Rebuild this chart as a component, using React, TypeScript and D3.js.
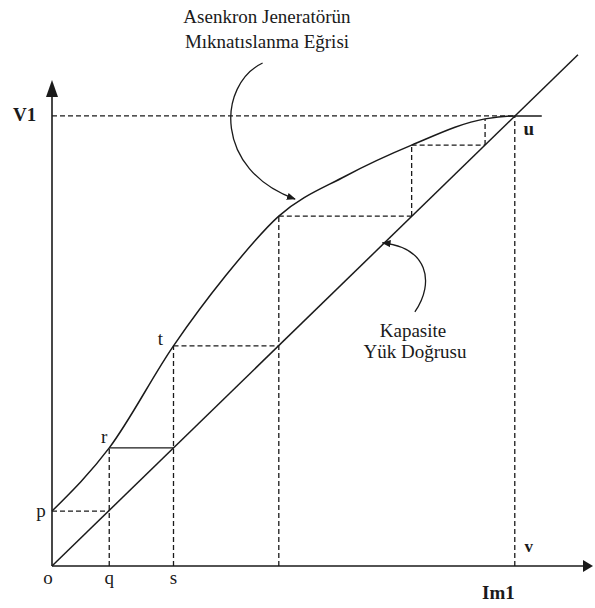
import React from "react";
import * as d3 from "d3";

const W = 595;
const H = 608;

// Magnetisation curve of the asynchronous generator (Im and V in arbitrary units),
// ending flat after the operating point u
const curveI = [0, 1.06, 2.25, 3.2, 4.2, 5.43, 6.66, 8.02, 8.57, 9.07];
const curveV = [1.13, 2.43, 4.53, 5.95, 7.2, 8.02, 8.66, 9.2, 9.26, 9.26];
// Staircase (self-excitation build-up) points on the curve
const pV = 1.13;
const stepI = [1.06, 2.25, 4.2, 6.66, 8.02, 8.57];
const stepV = [2.43, 4.53, 7.2, 8.66, 9.2, 9.26];
// Capacitive load line
const loadI = [0, 9.74];
const loadV = [0, 10.52];
const xTickLabels = ["o", "q", "s"];
const pointLabels = ["p", "r", "t", "u", "v"];
const titleLines = ["Asenkron Jeneratörün", "Mıknatıslanma Eğrisi"];
const loadLines = ["Kapasite", "Yük Doğrusu"];

const x = d3.scaleLinear().domain([0, 10]).range([52, 592]);
const y = d3.scaleLinear().domain([0, 10]).range([566, 80]);

const INK = "#1a1a1a";
const FONT = "'Liberation Serif', 'Times New Roman', serif";

export default function App() {
  const pts: [number, number][] = curveI.map((v, i) => [v, curveV[i]]);
  const curvePath = d3
    .line<[number, number]>()
    .x((d) => x(d[0]))
    .y((d) => y(d[1]))
    .curve(d3.curveMonotoneX)(pts) as string;

  const n = stepI.length;
  const uI = stepI[n - 1];
  const uV = stepV[n - 1];

  const horiz: { x1: number; x2: number; yv: number; solid: boolean }[] = [];
  horiz.push({ x1: 0, x2: stepI[0], yv: pV, solid: false });
  for (let i = 0; i <= 3; i++) {
    horiz.push({ x1: stepI[i], x2: stepI[i + 1], yv: stepV[i], solid: i === 0 });
  }
  horiz.push({ x1: 0, x2: uI, yv: uV, solid: false });

  const vert: { xv: number; y1: number; y2: number }[] = [];
  for (let i = 0; i <= 2; i++) vert.push({ xv: stepI[i], y1: 0, y2: stepV[i] });
  vert.push({ xv: stepI[3], y1: stepV[2], y2: stepV[3] });
  vert.push({ xv: stepI[4], y1: stepV[3], y2: stepV[4] });
  vert.push({ xv: uI, y1: 0, y2: uV });

  const dash = "5,3";

  const arr1 = `M${x(3.9)},${y(10.35)} C${x(3.06)},${y(9.9)} ${x(3.0)},${y(8.15)} ${x(4.5)},${y(7.55)}`;
  const arr2 = `M${x(6.72)},${y(5.23)} C${x(7.1)},${y(5.85)} ${x(6.95)},${y(6.55)} ${x(6.12)},${y(6.65)}`;

  const axisX0 = x(0);
  const axisY0 = y(0);
  const yTop = y(10);
  const xEnd = x(10);

  return (
    <div style={{ position: "fixed", left: 0, top: 0 }}>
      <svg width={W} height={H} style={{ display: "block", background: "#fff" }}>
        <defs>
          <marker id="ah" viewBox="0 0 10 10" refX="9" refY="5" markerWidth="9" markerHeight="9" orient="auto" markerUnits="userSpaceOnUse">
            <path d="M0,1 L10,5 L0,9 z" fill={INK} />
          </marker>
        </defs>

        <line x1={axisX0} y1={axisY0} x2={axisX0} y2={yTop + 12} stroke={INK} strokeWidth={1.6} />
        <path d={`M${axisX0},${yTop} L${axisX0 - 6},${yTop + 17} L${axisX0 + 6},${yTop + 17} z`} fill={INK} />
        <line x1={axisX0} y1={axisY0} x2={xEnd - 6} y2={axisY0} stroke={INK} strokeWidth={1.6} />
        <path d={`M${xEnd + 1},${axisY0} L${xEnd - 9},${axisY0 - 6} L${xEnd - 9},${axisY0 + 6} z`} fill={INK} />

        {horiz.map((h, i) => (
          <line key={"h" + i} x1={x(h.x1)} x2={x(h.x2)} y1={y(h.yv)} y2={y(h.yv)} stroke={INK} strokeWidth={1.3} strokeDasharray={h.solid ? undefined : dash} />
        ))}
        {vert.map((v, i) => (
          <line key={"v" + i} x1={x(v.xv)} x2={x(v.xv)} y1={y(v.y1)} y2={y(v.y2)} stroke={INK} strokeWidth={1.3} strokeDasharray={dash} />
        ))}

        <line x1={x(loadI[0])} y1={y(loadV[0])} x2={x(loadI[1])} y2={y(loadV[1])} stroke={INK} strokeWidth={1.5} />

        <path d={curvePath} fill="none" stroke={INK} strokeWidth={1.5} />

        <path d={arr1} fill="none" stroke={INK} strokeWidth={1.3} markerEnd="url(#ah)" />
        <path d={arr2} fill="none" stroke={INK} strokeWidth={1.3} markerEnd="url(#ah)" />

        <g fontFamily={FONT} fill={INK}>
          <text x={267} y={23} fontSize={19} textAnchor="middle">{titleLines[0]}</text>
          <text x={267} y={48} fontSize={19} textAnchor="middle">{titleLines[1]}</text>
          <text x={413} y={337} fontSize={19} textAnchor="middle">{loadLines[0]}</text>
          <text x={415} y={358} fontSize={19} textAnchor="middle">{loadLines[1]}</text>

          <text x={13} y={121} fontSize={19} fontWeight="bold">V1</text>
          <text x={482} y={599} fontSize={19} fontWeight="bold">Im1</text>

          <text x={x(0) - 4} y={584} fontSize={19} textAnchor="middle">{xTickLabels[0]}</text>
          <text x={x(stepI[0])} y={584} fontSize={19} textAnchor="middle">{xTickLabels[1]}</text>
          <text x={x(stepI[1])} y={584} fontSize={19} textAnchor="middle">{xTickLabels[2]}</text>

          <text x={x(0) - 11} y={y(pV) + 6} fontSize={19} textAnchor="middle">{pointLabels[0]}</text>
          <text x={x(stepI[0]) - 5} y={y(stepV[0]) - 5} fontSize={19} textAnchor="middle">{pointLabels[1]}</text>
          <text x={x(stepI[1]) - 13} y={y(stepV[1]) - 1} fontSize={19} textAnchor="middle">{pointLabels[2]}</text>
          <text x={x(uI) + 14} y={y(uV) + 19} fontSize={19} textAnchor="middle" fontWeight="bold">{pointLabels[3]}</text>
          <text x={x(uI) + 14} y={552} fontSize={17} textAnchor="middle" fontWeight="bold">{pointLabels[4]}</text>
        </g>
      </svg>
    </div>
  );
}
